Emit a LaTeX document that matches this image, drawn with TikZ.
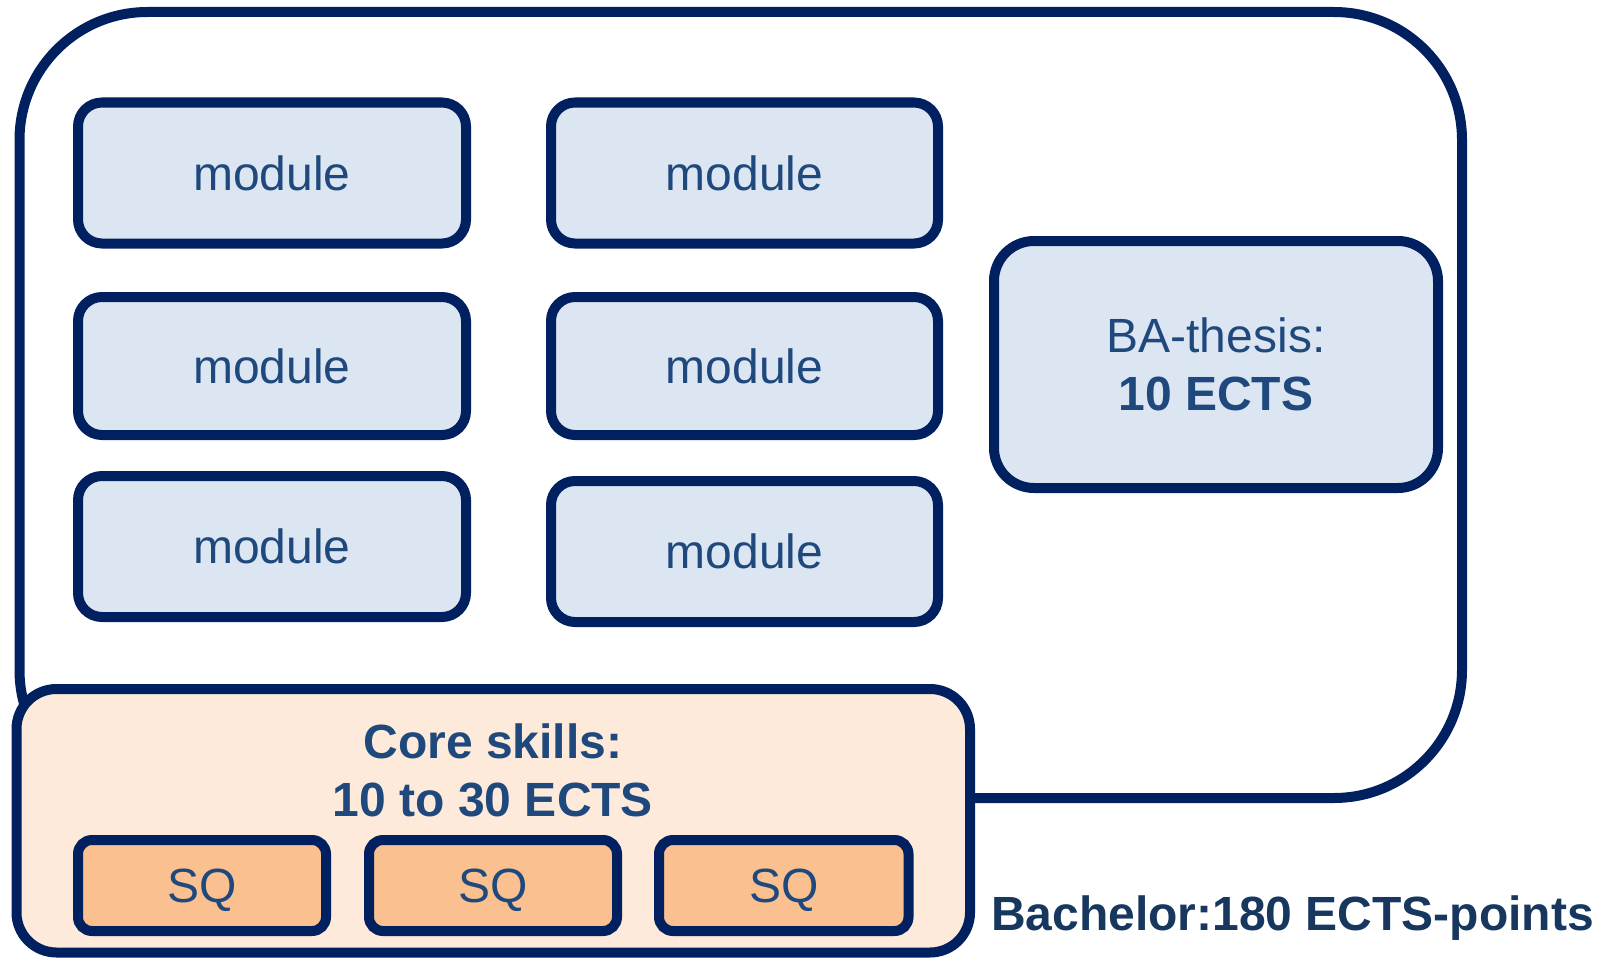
\documentclass[tikz,border=0pt]{standalone}
\usepackage{fontspec}
\setmainfont{Liberation Sans}
\definecolor{navy}{HTML}{002060}
\definecolor{modfill}{HTML}{DCE6F2}
\definecolor{txtblue}{HTML}{1F497D}
\definecolor{corefill}{HTML}{FDEADA}
\definecolor{sqfill}{HTML}{FAC090}
\definecolor{bachblue}{HTML}{17375E}
\tikzset{
  box/.style={draw=navy, line width=10pt, inner sep=0pt, outer sep=0pt, text=txtblue,
    font=\fontsize{48}{58}\selectfont, align=center},
  modbox/.style={box, fill=modfill, rounded corners=24pt, minimum width=388pt},
  sqbox/.style={box, fill=sqfill, rounded corners=14pt, minimum height=91pt, text depth=0pt},
}
\begin{document}
\begin{tikzpicture}[x=1pt,y=-1pt]
\useasboundingbox (0,0) rectangle (1610,958);
% outer frame
\node[box, fill=white, rounded corners=128pt, minimum width=1442.5pt, minimum height=786pt] (outer) at (740.75,405) {};
% modules
\node[modbox, minimum height=141pt] (m11) at (272,173) {module};
\node[modbox, minimum height=141pt, minimum width=387pt] (m12) at (744.5,173) {module};
\node[modbox, minimum height=138pt] (m21) at (272,366) {module};
\node[modbox, minimum height=138pt, minimum width=387pt] (m22) at (744.5,366) {module};
\node[modbox, minimum height=141pt] (m31) at (272,546.5) {module};
\node[modbox, minimum height=141pt, minimum width=387pt] (m32) at (744.5,551.5) {module};
% BA thesis
\node[box, fill=modfill, rounded corners=40pt, minimum width=444pt, minimum height=247pt] (ba) at (1216,364.5) {BA-thesis:\\\textbf{10 ECTS}};
% core skills
\node[box, fill=corefill, rounded corners=40pt, minimum width=953.5pt, minimum height=263.5pt] (core) at (493.25,820.75) {};
\node[text=txtblue, font=\fontsize{48}{58}\selectfont\bfseries, align=center, inner sep=0pt] (coretxt) at (493,770) {Core skills:\\10 to 30 ECTS};
\node[sqbox, minimum width=248pt] (sq1) at (202,885.5) {SQ};
\node[sqbox, minimum width=248pt] (sq2) at (493,885.5) {SQ};
\node[sqbox, minimum width=249.5pt] (sq3) at (783.75,885.5) {SQ};
% label
\node[anchor=base west, inner sep=0pt, text=bachblue, font=\fontsize{48}{58}\selectfont\bfseries] (bach) at (991,930) {Bachelor:180 ECTS-points};
\end{tikzpicture}
\end{document}
